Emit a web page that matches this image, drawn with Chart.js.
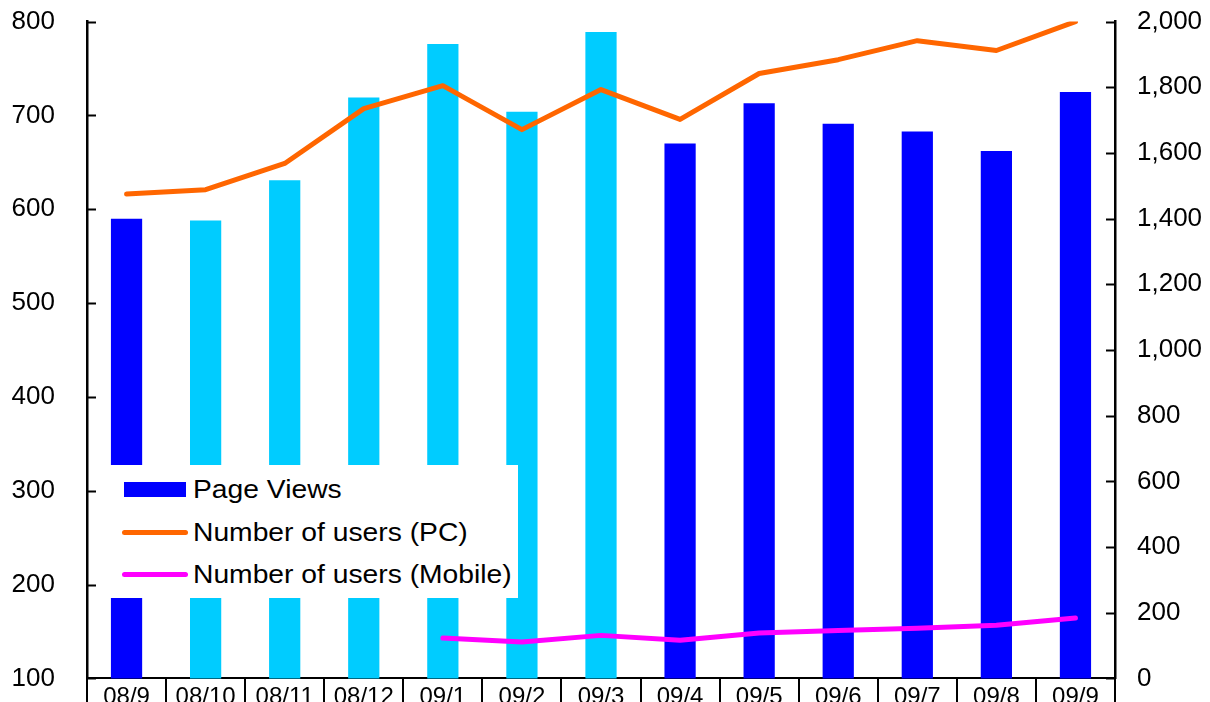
<!DOCTYPE html>
<html>
<head>
<meta charset="utf-8">
<script src="https://cdn.jsdelivr.net/npm/chart.js@4.4.0/dist/chart.umd.min.js"></script>
<style>
    html, body { margin: 0; padding: 0; background: #fff; overflow: hidden; }
    #wrap { position: relative; width: 1210px; height: 752px; margin-top: -26px; }
    #legend { position: absolute; left: 110px; top: 491px; width: 408px; height: 133px; background: #fff; }
    .row { position: absolute; left: 0; height: 30px; width: 408px; }
    .sw { position: absolute; }
    .txt { position: absolute; left: 83px; top: 0; font: 25px "Liberation Sans", Arial, sans-serif; color: #000;
           line-height: 30px; white-space: nowrap; transform: scaleX(1.13); transform-origin: left center; }
</style>
</head>
<body>
<div id="wrap">
    <canvas id="pvChart"></canvas>
    <div id="legend"></div>
</div>
<script>
const months = ['08/9', '08/10', '08/11', '08/12', '09/1', '09/2', '09/3',
    '09/4', '09/5', '09/6', '09/7', '09/8', '09/9'];
const pageViews = [590, 588, 631, 719, 776, 704, 789, 670, 713, 691, 683, 662, 725];
const usersPC = [1475, 1488, 1568, 1735, 1805, 1671, 1793, 1702, 1842, 1884, 1942, 1912, 2000];
const usersMobile = [null, null, null, null, 123, 111, 131, 116, 138, 146, 153, 162, 184];

// bars from 08/10 to 09/3 are light blue
const barColors = months.map((m, i) => (i >= 1 && i <= 6) ? '#00CCFF' : '#0000FF');

const fontFamily = '"Liberation Sans", Arial, sans-serif';
Chart.defaults.font.family = fontFamily;
Chart.defaults.color = '#000';

// tick marks pointing into the plot, and the table lines under the x axis
const axisMarks = {
    id: 'axisMarks',
    afterDraw(chart) {
        const c = chart.ctx;
        c.save();
        c.strokeStyle = '#000';
        c.lineWidth = 2;
        for (const id of ['y', 'y1']) {
            const sc = chart.scales[id];
            sc.ticks.forEach((t, i) => {
                const py = Math.round(sc.getPixelForTick(i)) + 0.5;
                c.beginPath();
                if (id === 'y') { c.moveTo(sc.right, py); c.lineTo(sc.right + 9, py); }
                else { c.moveTo(sc.left - 9, py); c.lineTo(sc.left, py); }
                c.stroke();
            });
        }
        const xs = chart.scales.x;
        const half = (xs.getPixelForValue(1) - xs.getPixelForValue(0)) / 2;
        for (let i = 0; i <= months.length; i++) {
            const px = Math.round(xs.getPixelForValue(i) - half);
            c.beginPath();
            c.moveTo(px, xs.top);
            c.lineTo(px, chart.height);
            c.stroke();
        }
        c.restore();
    }
};

const ctx = document.getElementById('pvChart');
new Chart(ctx, {
    type: 'bar',
    data: {
        labels: months,
        datasets: [
            {
                type: 'line',
                label: 'Number of users (PC)',
                data: usersPC,
                yAxisID: 'y1',
                borderColor: '#FF6600',
                borderWidth: 5,
                borderCapStyle: 'round',
                borderJoinStyle: 'round',
                pointRadius: 0,
                tension: 0,
                order: 0
            },
            {
                type: 'line',
                label: 'Number of users (Mobile)',
                data: usersMobile,
                yAxisID: 'y1',
                borderColor: '#FF00FF',
                borderWidth: 5,
                borderCapStyle: 'round',
                borderJoinStyle: 'round',
                pointRadius: 0,
                tension: 0,
                order: 1
            },
            {
                label: 'Page Views',
                data: pageViews,
                yAxisID: 'y',
                backgroundColor: barColors,
                borderWidth: 0,
                barPercentage: 0.395,
                categoryPercentage: 1,
                order: 2
            }
        ]
    },
    options: {
        responsive: true,
        maintainAspectRatio: false,
        animation: false,
        layout: { padding: { left: 12, right: 7, top: 0, bottom: 0 } },
        plugins: {
            legend: { display: false },
            tooltip: { enabled: false }
        },
        scales: {
            x: {
                grid: { display: false },
                border: { display: true, color: '#000', width: 2 },
                ticks: { font: { size: 24 }, padding: -3, maxRotation: 0, autoSkip: false },
                afterFit: s => { s.height = 36; }
            },
            y: {
                position: 'left',
                min: 100,
                max: 800,
                grid: { display: false, drawTicks: false },
                border: { display: true, color: '#000', width: 2.5 },
                ticks: { stepSize: 100, font: { size: 26 }, padding: 32 },
                afterFit: s => { s.width = 75; }
            },
            y1: {
                position: 'right',
                min: 0,
                max: 2000,
                grid: { display: false, drawTicks: false },
                border: { display: true, color: '#000', width: 2.5 },
                ticks: { stepSize: 200, font: { size: 26 }, padding: 22,
                    callback: v => v.toLocaleString('en-US') },
                afterFit: s => { s.width = 88; }
            }
        }
    },
    plugins: [axisMarks]
});

// legend drawn as a white box over the plot
const legendItems = [
    { text: 'Page Views', kind: 'box', color: '#0000FF', top: 9 },
    { text: 'Number of users (PC)', kind: 'line', color: '#FF6600', top: 52 },
    { text: 'Number of users (Mobile)', kind: 'line', color: '#FF00FF', top: 94 }
];
const legend = document.getElementById('legend');
for (const item of legendItems) {
    const row = document.createElement('div');
    row.className = 'row';
    row.style.top = item.top + 'px';
    const sw = document.createElement('div');
    sw.className = 'sw';
    sw.style.background = item.color;
    if (item.kind === 'box') {
        sw.style.left = '14px'; sw.style.width = '62px'; sw.style.top = '8px'; sw.style.height = '15px';
    } else {
        sw.style.left = '12px'; sw.style.width = '66px'; sw.style.top = '13px'; sw.style.height = '5px';
        sw.style.borderRadius = '3px';
    }
    const tx = document.createElement('div');
    tx.className = 'txt';
    tx.textContent = item.text;
    row.appendChild(sw);
    row.appendChild(tx);
    legend.appendChild(row);
}
</script>
</body>
</html>
